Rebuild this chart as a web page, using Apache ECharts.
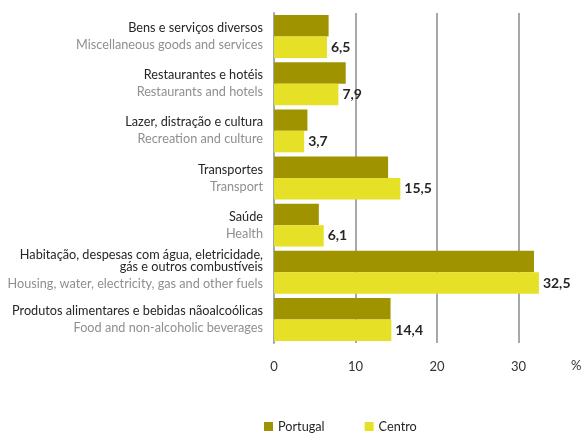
<!DOCTYPE html>
<html>
<head>
<meta charset="utf-8">
<script src="https://cdn.jsdelivr.net/npm/echarts@6/dist/echarts.min.js"></script>
<style>
  html, body { margin: 0; padding: 0; background: #fff; }
  #chart { width: 582px; height: 433px; }
</style>
</head>
<body>
<div id="chart"></div>
<script>
// categories, top to bottom
const labelsPt = [
  'Bens e serviços diversos',
  'Restaurantes e hotéis',
  'Lazer, distração e cultura',
  'Transportes',
  'Saúde',
  'Habitação, despesas com água, eletricidade,\ngás e outros combustíveis',
  'Produtos alimentares e bebidas nãoalcoólicas'
]
const labelsEn = [
  'Miscellaneous goods and services',
  'Restaurants and hotels',
  'Recreation and culture',
  'Transport',
  'Health',
  'Housing, water, electricity, gas and other fuels',
  'Food and non-alcoholic beverages'
]
const portugal = [6.7, 8.8, 4.1, 14.0, 5.5, 31.9, 14.3]
const centro = [6.5, 7.9, 3.7, 15.5, 6.1, 32.5, 14.4]
const xTicks = [0, 10, 20, 30, 40]

const FONT = 'Lato'
const LABEL_SIZE = 12.7
const categories = labelsPt.map((_, i) => String(i))

const chart = echarts.init(document.getElementById('chart'), null, { renderer: 'canvas' })

chart.setOption({
  animation: false,
  textStyle: { fontFamily: FONT },
  grid: {
    left: 274,
    right: -18,
    top: 13,
    bottom: 90,
    outerBoundsMode: 'none'
  },
  legend: {
    data: ['Portugal', 'Centro'],
    left: 264,
    top: 420,
    padding: 0,
    itemWidth: 9,
    itemHeight: 9,
    itemGap: 40,
    icon: 'rect',
    textStyle: { fontFamily: FONT, fontSize: LABEL_SIZE, color: '#262626' }
  },
  xAxis: {
    type: 'value',
    min: xTicks[0],
    max: xTicks[xTicks.length - 1],
    interval: 10,
    axisLine: { show: false },
    axisTick: { show: false },
    axisLabel: {
      fontFamily: FONT,
      fontSize: 13,
      color: '#333',
      margin: 17
    },
    splitLine: { lineStyle: { color: '#a7a7ae', width: 2 } }
  },
  yAxis: {
    type: 'category',
    inverse: true,
    data: categories,
    axisTick: { show: false },
    axisLine: { lineStyle: { color: '#a7a7ae', width: 2 } },
    axisLabel: {
      margin: 11,
      align: 'right',
      formatter: (v) => {
        const i = Number(v)
        const pt = labelsPt[i].split('\n')
        if (pt.length > 1) {
          return pt.map(s => '{pth|' + s + '}').join('\n') + '\n{enh|' + labelsEn[i] + '}'
        }
        return '{pt|' + pt[0] + '}\n{en|' + labelsEn[i] + '}'
      },
      rich: {
        pt: { fontFamily: FONT, fontSize: LABEL_SIZE, color: '#262626', lineHeight: 17, align: 'right' },
        en: { fontFamily: FONT, fontSize: LABEL_SIZE, color: '#8f8f8f', lineHeight: 17, align: 'right' },
        pth: { fontFamily: FONT, fontSize: LABEL_SIZE, color: '#262626', lineHeight: 12, align: 'right' },
        enh: { fontFamily: FONT, fontSize: LABEL_SIZE, color: '#8f8f8f', lineHeight: 22, align: 'right' }
      }
    }
  },
  graphic: [{
    type: 'text',
    left: 571,
    top: 359,
    style: { text: '%', fontFamily: FONT, fontSize: 13, fill: '#333' }
  }],
  series: [
    {
      name: 'Portugal',
      type: 'bar',
      data: portugal,
      barGap: '0%',
      barCategoryGap: '9%',
      itemStyle: { color: '#9f9400' }
    },
    {
      name: 'Centro',
      type: 'bar',
      data: centro,
      barGap: '0%',
      barCategoryGap: '9%',
      itemStyle: { color: '#e6e026' },
      label: {
        show: true,
        position: 'right',
        distance: 4,
        fontFamily: FONT,
        fontSize: 14,
        fontWeight: 'bold',
        color: '#262626',
        formatter: (p) => p.value.toFixed(1).replace('.', ',')
      }
    }
  ]
})
</script>
</body>
</html>
